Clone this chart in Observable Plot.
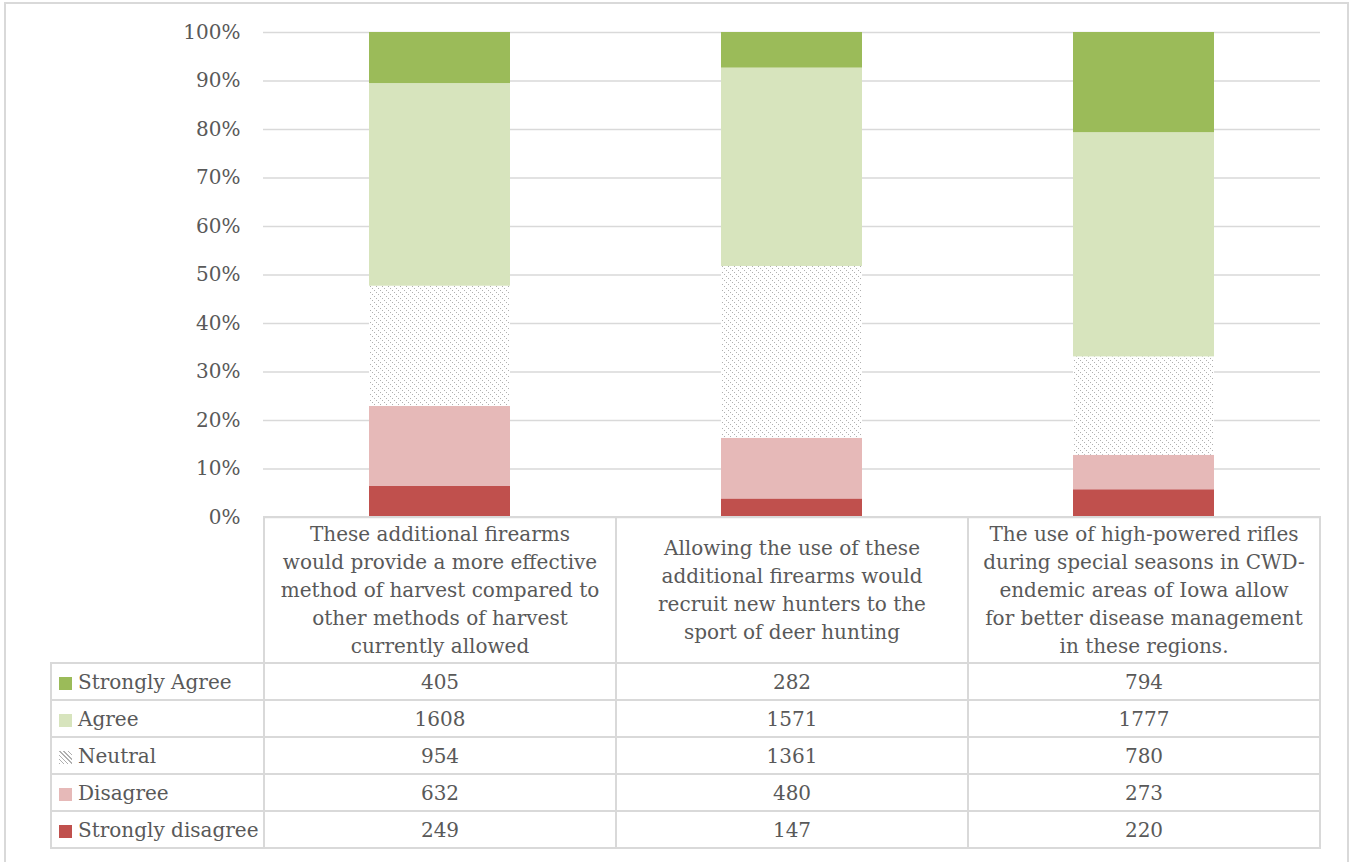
<!DOCTYPE html>
<html><head><meta charset="utf-8">
<script src="https://cdn.jsdelivr.net/npm/d3@7"></script>
<script src="https://cdn.jsdelivr.net/npm/@observablehq/plot@0.6"></script>
<style>
body{margin:0;background:#fff;}
#wrap{position:relative;width:1350px;height:862px;overflow:hidden;font-family:"DejaVu Serif",serif;color:#595959;background:#fff;}
#frame{position:absolute;left:4px;top:2px;width:1345px;height:900px;border:2px solid #d9d9d9;box-sizing:border-box;}
#chart{position:absolute;left:0;top:0;}
#tbl{position:absolute;left:50px;top:516px;border-collapse:collapse;table-layout:fixed;font-size:20px;color:#595959;}
#tbl td{border:2px solid #d9d9d9;padding:0;}
#tbl td.blank{border-top:none;border-left:none;}
#tbl td.hdr{height:144px;text-align:center;vertical-align:middle;white-space:pre-line;line-height:28px;}
#tbl td.val{height:35px;text-align:center;vertical-align:middle;}
#tbl td.lab{height:35px;padding-left:7px;white-space:nowrap;vertical-align:middle;}
.sw{display:inline-block;width:13px;height:13px;margin-right:6px;vertical-align:-1px;}
</style>
</head><body>
<div id="wrap"><div id="frame"></div><div id="chart"></div><table id="tbl"></table></div>
<script>
const categories = [
  "These additional firearms\nwould provide a more effective\nmethod of harvest compared to\nother methods of harvest\ncurrently allowed",
  "Allowing the use of these\nadditional firearms would\nrecruit new hunters to the\nsport of deer hunting",
  "The use of high-powered rifles\nduring special seasons in CWD-\nendemic areas of Iowa allow\nfor better disease management\nin these regions."
];
const responses = ["Strongly Agree", "Agree", "Neutral", "Disagree", "Strongly disagree"];
const stronglyAgree = [405, 282, 794];
const agree = [1608, 1571, 1777];
const neutral = [954, 1361, 780];
const disagree = [632, 480, 273];
const stronglyDisagree = [249, 147, 220];
const colors = ["#9bbb59", "#d7e4bd", "url(#hatch)", "#e6b9b8", "#c0504d"];
const yTicks = [0, 10, 20, 30, 40, 50, 60, 70, 80, 90, 100];

const seriesValues = [stronglyAgree, agree, neutral, disagree, stronglyDisagree];
const data = [];
responses.slice().reverse().forEach((r) => {
  const vals = seriesValues[responses.indexOf(r)];
  categories.forEach((c, i) => data.push({category: c, response: r, count: vals[i]}));
});

const plot = Plot.plot({
  width: 1350,
  height: 535,
  marginLeft: 263,
  marginRight: 30,
  marginTop: 32,
  marginBottom: 18,
  style: {fontFamily: '"DejaVu Serif", serif', fontSize: "20px", color: "#595959", background: "transparent"},
  x: {domain: categories, paddingInner: 0.6, paddingOuter: 0.3, axis: null},
  y: {domain: [0, 1], axis: null},
  color: {domain: responses, range: colors},
  marks: [
    Plot.ruleY(yTicks.map(v => v / 100), {stroke: "#d9d9d9", strokeWidth: 1.5, strokeOpacity: 1}),
    Plot.barY(data, Plot.stackY({
      x: "category", y: "count", fill: "response",
      offset: "normalize", order: responses.slice().reverse()
    })),
    Plot.axisY({ticks: yTicks.map(v => v / 100), tickFormat: d => Math.round(d * 100) + "%", tickSize: 0, tickPadding: 23, fill: "#595959", fontSize: 20, label: null})
  ]
});
const ns = "http://www.w3.org/2000/svg";
const defs = document.createElementNS(ns, "defs");
defs.innerHTML = '<pattern id="hatch" patternUnits="userSpaceOnUse" width="6" height="6">' +
  '<rect width="6" height="6" fill="#ffffff"/>' +
  '<rect x="0" y="0" width="1" height="1" fill="#b0b0b0"/>' +
  '<rect x="2" y="2" width="1" height="1" fill="#b0b0b0"/>' +
  '<rect x="4" y="4" width="1" height="1" fill="#b0b0b0"/></pattern>';
plot.insertBefore(defs, plot.firstChild);
document.getElementById("chart").appendChild(plot);

// data table below the chart
const tbl = document.getElementById("tbl");
const colg = document.createElement("colgroup");
[213, 352, 352, 352].forEach(w => { const c = document.createElement("col"); c.style.width = w + "px"; colg.appendChild(c); });
tbl.appendChild(colg);
const hr = document.createElement("tr");
const blank = document.createElement("td"); blank.className = "blank"; hr.appendChild(blank);
categories.forEach(c => { const td = document.createElement("td"); td.className = "hdr"; td.textContent = c; hr.appendChild(td); });
tbl.appendChild(hr);
responses.forEach((r, k) => {
  const tr = document.createElement("tr");
  const lab = document.createElement("td"); lab.className = "lab";
  const sw = document.createElement("span"); sw.className = "sw";
  if (r === "Neutral") sw.style.background = "repeating-linear-gradient(45deg, #b0b0b0 0 1px, #ffffff 1px 3px)";
  else sw.style.background = colors[k];
  lab.appendChild(sw); lab.appendChild(document.createTextNode(r));
  tr.appendChild(lab);
  seriesValues[k].forEach(v => { const td = document.createElement("td"); td.className = "val"; td.textContent = v; tr.appendChild(td); });
  tbl.appendChild(tr);
});
</script>
</body></html>
